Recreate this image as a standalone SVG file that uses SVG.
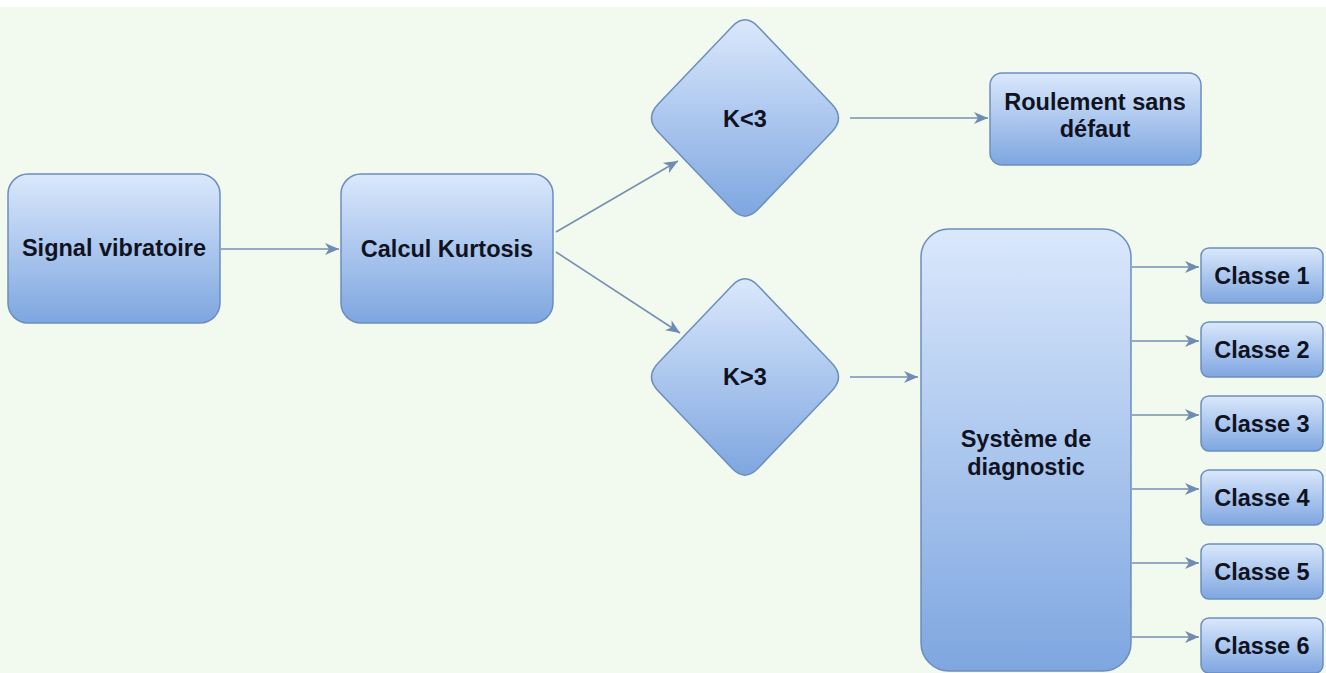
<svg xmlns="http://www.w3.org/2000/svg" width="1326" height="673" viewBox="0 0 1326 673">
  <defs>
    <linearGradient id="fillBlue" x1="0" y1="0" x2="0" y2="1">
      <stop offset="0" stop-color="#dae8fc"/>
      <stop offset="1" stop-color="#7ea6e0"/>
    </linearGradient>
    <marker id="arrow" markerUnits="userSpaceOnUse" markerWidth="15" markerHeight="13" viewBox="0 0 15 13" refX="14" refY="6.5" orient="auto">
      <path d="M0,0.5 L14,6.5 L0,12.5 L4,6.5 Z" fill="#6f8cb4"/>
    </marker>
    <style>
      .box { fill: url(#fillBlue); stroke: #6c8ebf; stroke-width: 1.5; }
      .lbl { font-family: "Liberation Sans", Arial, sans-serif; font-weight: bold; font-size: 23.5px; fill: #10131f; text-anchor: middle; }
      .edge { stroke: #7890b0; stroke-width: 1.6; fill: none; marker-end: url(#arrow); }
    </style>
  </defs>

  <!-- page background -->
  <rect x="0" y="0" width="1326" height="673" fill="#f2f9ee"/>
  <rect x="0" y="0" width="1326" height="7" fill="#ffffff"/>

  <!-- connectors -->
  <g id="connectors">
    <line class="edge" x1="221" y1="249" x2="339" y2="249"/>
    <line class="edge" x1="556" y1="232" x2="678" y2="161"/>
    <line class="edge" x1="556" y1="252" x2="680" y2="333"/>
    <line class="edge" x1="850" y1="118" x2="988" y2="118"/>
    <line class="edge" x1="850" y1="377" x2="918" y2="377"/>
    <line class="edge" x1="1132" y1="267" x2="1199" y2="267"/>
    <line class="edge" x1="1132" y1="341" x2="1199" y2="341"/>
    <line class="edge" x1="1132" y1="415" x2="1199" y2="415"/>
    <line class="edge" x1="1132" y1="489" x2="1199" y2="489"/>
    <line class="edge" x1="1132" y1="563" x2="1199" y2="563"/>
    <line class="edge" x1="1132" y1="637" x2="1199" y2="637"/>
  </g>

  <g id="signal">
    <rect class="box" x="8" y="174" width="212" height="149" rx="20"/>
    <text class="lbl" x="114" y="256">Signal vibratoire</text>
  </g>

  <g id="kurtosis">
    <rect class="box" x="341" y="174" width="212" height="149" rx="20"/>
    <text class="lbl" x="447" y="257">Calcul Kurtosis</text>
  </g>

  <g id="k-lt-3">
    <path class="box" d="M758,26.65 L832,104.35 Q845,118 832,131.65 L758,209.35 Q745,223 732,209.35 L658,131.65 Q645,118 658,104.35 L732,26.65 Q745,13 758,26.65 Z"/>
    <text class="lbl" x="745" y="127">K&lt;3</text>
  </g>

  <g id="k-gt-3">
    <path class="box" d="M758,285.65 L832,363.35 Q845,377 832,390.65 L758,468.35 Q745,482 732,468.35 L658,390.65 Q645,377 658,363.35 L732,285.65 Q745,272 758,285.65 Z"/>
    <text class="lbl" x="745" y="385">K&gt;3</text>
  </g>

  <g id="sans-defaut">
    <rect class="box" x="990" y="73" width="211" height="92" rx="12"/>
    <text class="lbl" x="1095" y="110">Roulement sans</text>
    <text class="lbl" x="1095" y="137">défaut</text>
  </g>

  <g id="diagnostic">
    <rect class="box" x="921" y="229" width="210" height="442" rx="28"/>
    <text class="lbl" x="1026" y="447">Système de</text>
    <text class="lbl" x="1026" y="475">diagnostic</text>
  </g>

  <g id="classe1">
    <rect class="box" x="1201" y="248" width="122" height="55" rx="8"/>
    <text class="lbl" x="1262" y="284">Classe 1</text>
  </g>
  <g id="classe2">
    <rect class="box" x="1201" y="322" width="122" height="55" rx="8"/>
    <text class="lbl" x="1262" y="358">Classe 2</text>
  </g>
  <g id="classe3">
    <rect class="box" x="1201" y="396" width="122" height="55" rx="8"/>
    <text class="lbl" x="1262" y="432">Classe 3</text>
  </g>
  <g id="classe4">
    <rect class="box" x="1201" y="470" width="122" height="55" rx="8"/>
    <text class="lbl" x="1262" y="506">Classe 4</text>
  </g>
  <g id="classe5">
    <rect class="box" x="1201" y="544" width="122" height="55" rx="8"/>
    <text class="lbl" x="1262" y="580">Classe 5</text>
  </g>
  <g id="classe6">
    <rect class="box" x="1201" y="618" width="122" height="55" rx="8"/>
    <text class="lbl" x="1262" y="654">Classe 6</text>
  </g>
</svg>
